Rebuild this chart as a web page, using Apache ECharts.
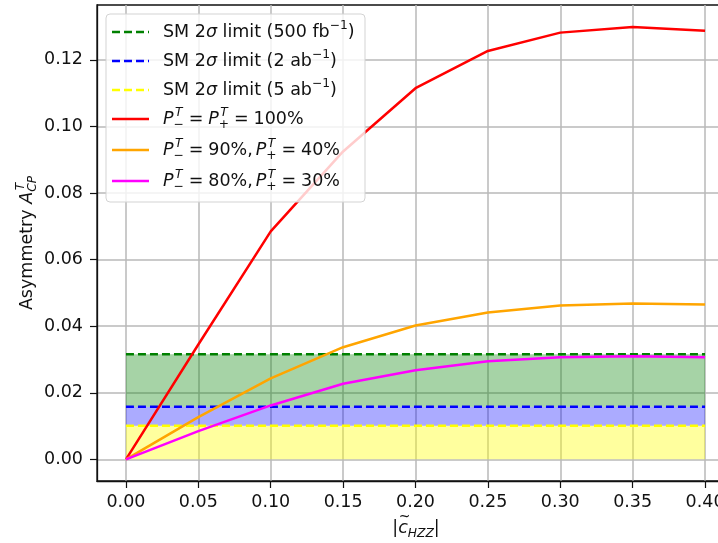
<!DOCTYPE html>
<html>
<head>
<meta charset="utf-8">
<script src="https://cdn.jsdelivr.net/npm/echarts@6.0.0/dist/echarts.min.js"></script>
<style>
html, body { margin: 0; padding: 0; background: #fff; }
#chart { width: 718px; height: 543px; }
</style>
</head>
<body>
<div id="chart"></div>
<script>
// tick positions
var xTicks = [0, 0.05, 0.10, 0.15, 0.20, 0.25, 0.30, 0.35, 0.40];
var yTicks = [0, 0.02, 0.04, 0.06, 0.08, 0.10, 0.12];

// |c_HZZ| scan points and asymmetry values
var coupling = [0, 0.05, 0.10, 0.15, 0.20, 0.25, 0.30, 0.35, 0.40];
var asymFull = [0, 0.0345, 0.0685, 0.0925, 0.1115, 0.1227, 0.1282, 0.1299, 0.1288];
var asym9040 = [0, 0.0127, 0.0243, 0.0337, 0.0402, 0.0441, 0.0462, 0.0468, 0.0465];
var asym8030 = [0, 0.0085, 0.0162, 0.0227, 0.0268, 0.0295, 0.0307, 0.0310, 0.0307];

// SM 2 sigma limits
var limit500fb = 0.0316;
var limit2ab = 0.0158;
var limit5ab = 0.0101;

var FONT = '"DejaVu Sans", sans-serif';
var ctx = document.createElement('canvas').getContext('2d');
function textWidth(t, size, italic) {
    ctx.font = (italic ? 'italic ' : '') + size + 'px ' + FONT;
    return ctx.measureText(t).width;
}
function txt(t, x, y, size, italic, color) {
    return {
        type: 'text', x: x, y: y, z: 100,
        style: {
            text: t, fontSize: size, fontFamily: FONT,
            fontStyle: italic ? 'italic' : 'normal',
            fill: color || '#111', align: 'left', verticalAlign: 'middle'
        }
    };
}
// lay out a little bit of "mathtext": plain strings, italic pieces, sup/sub pairs, gaps
function mathRow(pieces, size) {
    var x = 0, kids = [], s = size * 0.7;
    pieces.forEach(function (p) {
        if (typeof p === 'string') {
            kids.push(txt(p, x, 0, size, false));
            x += textWidth(p, size, false);
        } else if (p.i) {
            kids.push(txt(p.i, x, 0, size, true));
            x += textWidth(p.i, size, true);
        } else if (p.gap) {
            x += p.gap * size;
        } else {
            var w = 0, dx = p.supDx || 0;
            if (p.sup) {
                kids.push(txt(p.sup, x + dx, -0.36 * size, s, p.supIt));
                w = Math.max(w, textWidth(p.sup, s, p.supIt) + dx);
            }
            if (p.sub) {
                kids.push(txt(p.sub, x, 0.33 * size, s, p.subIt));
                w = Math.max(w, textWidth(p.sub, s, p.subIt));
            }
            x += w;
        }
    });
    return {kids: kids, width: x};
}

var FS = 17.5;
var eq = [{gap: 0.28}, '=', {gap: 0.28}];
function pol(sign) { return [{i: 'P'}, {sup: 'T', supIt: true, supDx: 1.5, sub: sign}]; }
var legendRows = [
    {color: '#008000', dash: true, label: ['SM 2', {i: 'σ'}, ' limit (500 fb', {sup: '−1'}, ')']},
    {color: '#0000ff', dash: true, label: ['SM 2', {i: 'σ'}, ' limit (2 ab', {sup: '−1'}, ')']},
    {color: '#ffff00', dash: true, label: ['SM 2', {i: 'σ'}, ' limit (5 ab', {sup: '−1'}, ')']},
    {color: '#ff0000', dash: false, label: pol('−').concat(eq, pol('+'), eq, ['100%'])},
    {color: '#ffa500', dash: false, label: pol('−').concat(eq, ['90%,', {gap: 0.17}], pol('+'), eq, ['40%'])},
    {color: '#ff00ff', dash: false, label: pol('−').concat(eq, ['80%,', {gap: 0.17}], pol('+'), eq, ['30%'])}
];
var rowY = [32, 61, 90, 119, 150, 181];

var graphics = [{
    type: 'rect', z: 99,
    shape: {x: 106, y: 14, width: 259, height: 188, r: 4},
    style: {fill: 'rgba(255,255,255,0.8)', stroke: '#d3d3d3', lineWidth: 1}
}];
legendRows.forEach(function (r, k) {
    graphics.push({
        type: 'line', z: 100,
        shape: {x1: 112, y1: rowY[k], x2: 149, y2: rowY[k]},
        style: {stroke: r.color, lineWidth: 2.5, lineDash: r.dash ? [8, 4] : null}
    });
    var m = mathRow(r.label, FS);
    graphics.push({type: 'group', x: 163, y: rowY[k], z: 100, children: m.kids});
});

// y axis title, rotated
var yTitle = mathRow(['Asymmetry ', {i: 'A'}, {sup: 'T', supIt: true, supDx: 1.5, sub: 'CP', subIt: true}], FS);
graphics.push({type: 'group', x: 27, y: 243 + yTitle.width / 2, rotation: Math.PI / 2, children: yTitle.kids});

// x axis title |c~_HZZ|
var xt = mathRow(['|', {i: 'c'}, {sub: 'HZZ', subIt: true}, '|'], FS);
var cx = textWidth('|', FS, false);
xt.kids.push(txt('~', cx + 0.5, -0.62 * FS, 14, false));
graphics.push({type: 'group', x: 416 - xt.width / 2, y: 528, children: xt.kids});

function pairs(ys) {
    return coupling.map(function (x, k) { return [x, ys[k]]; });
}
function limitLine(name, v, color) {
    return {
        name: name, type: 'line', symbol: 'none', z: 3,
        data: [[coupling[0], v], [coupling[coupling.length - 1], v]],
        lineStyle: {color: color, width: 2.5, type: [8, 4]}
    };
}
function curve(name, ys, color) {
    return {
        name: name, type: 'line', symbol: 'none', z: 4,
        data: pairs(ys),
        lineStyle: {color: color, width: 2.5}
    };
}

var x0 = coupling[0], x1 = coupling[coupling.length - 1];
var bands = limitLine('SM 2σ limit (500 fb⁻¹)', limit500fb, '#008000');
bands.markArea = {
    silent: true,
    data: [
        [{xAxis: x0, yAxis: 0, itemStyle: {color: 'rgba(255,255,0,0.38)', opacity: 1}}, {xAxis: x1, yAxis: limit5ab}],
        [{xAxis: x0, yAxis: limit5ab, itemStyle: {color: 'rgba(0,0,255,0.33)', opacity: 1}}, {xAxis: x1, yAxis: limit2ab}],
        [{xAxis: x0, yAxis: limit2ab, itemStyle: {color: 'rgba(0,128,0,0.35)', opacity: 1}}, {xAxis: x1, yAxis: limit500fb}]
    ]
};

var chart = echarts.init(document.getElementById('chart'));
chart.setOption({
    animation: false,
    grid: {
        left: 97, top: 5, right: -16, bottom: 62,
        show: true, borderColor: '#111', borderWidth: 1.3,
        outerBoundsMode: 'none'
    },
    xAxis: {
        type: 'value', min: -0.02, max: 0.42,
        axisLine: {show: true, onZero: false, lineStyle: {color: '#111', width: 1.3}},
        axisTick: {show: true, customValues: xTicks, length: 7, lineStyle: {color: '#111', width: 1.2}},
        axisLabel: {
            customValues: xTicks, margin: 12, fontSize: FS, fontFamily: FONT, color: '#111',
            formatter: function (v) { return v.toFixed(2); }
        },
        splitLine: {show: true, lineStyle: {color: '#b8b8b8', width: 1.5}}
    },
    yAxis: {
        type: 'value', min: -0.0065, max: 0.1365,
        axisLine: {show: true, onZero: false, lineStyle: {color: '#111', width: 1.3}},
        axisTick: {show: true, customValues: yTicks, length: 7, lineStyle: {color: '#111', width: 1.2}},
        axisLabel: {
            customValues: yTicks, margin: 14, fontSize: FS, fontFamily: FONT, color: '#111',
            formatter: function (v) { return v.toFixed(2); }
        },
        splitLine: {show: true, lineStyle: {color: '#b8b8b8', width: 1.5}}
    },
    graphic: graphics,
    series: [
        bands,
        limitLine('SM 2σ limit (2 ab⁻¹)', limit2ab, '#0000ff'),
        limitLine('SM 2σ limit (5 ab⁻¹)', limit5ab, '#ffff00'),
        curve('P- = P+ = 100%', asymFull, '#ff0000'),
        curve('P- = 90%, P+ = 40%', asym9040, '#ffa500'),
        curve('P- = 80%, P+ = 30%', asym8030, '#ff00ff')
    ]
});
</script>
</body>
</html>
